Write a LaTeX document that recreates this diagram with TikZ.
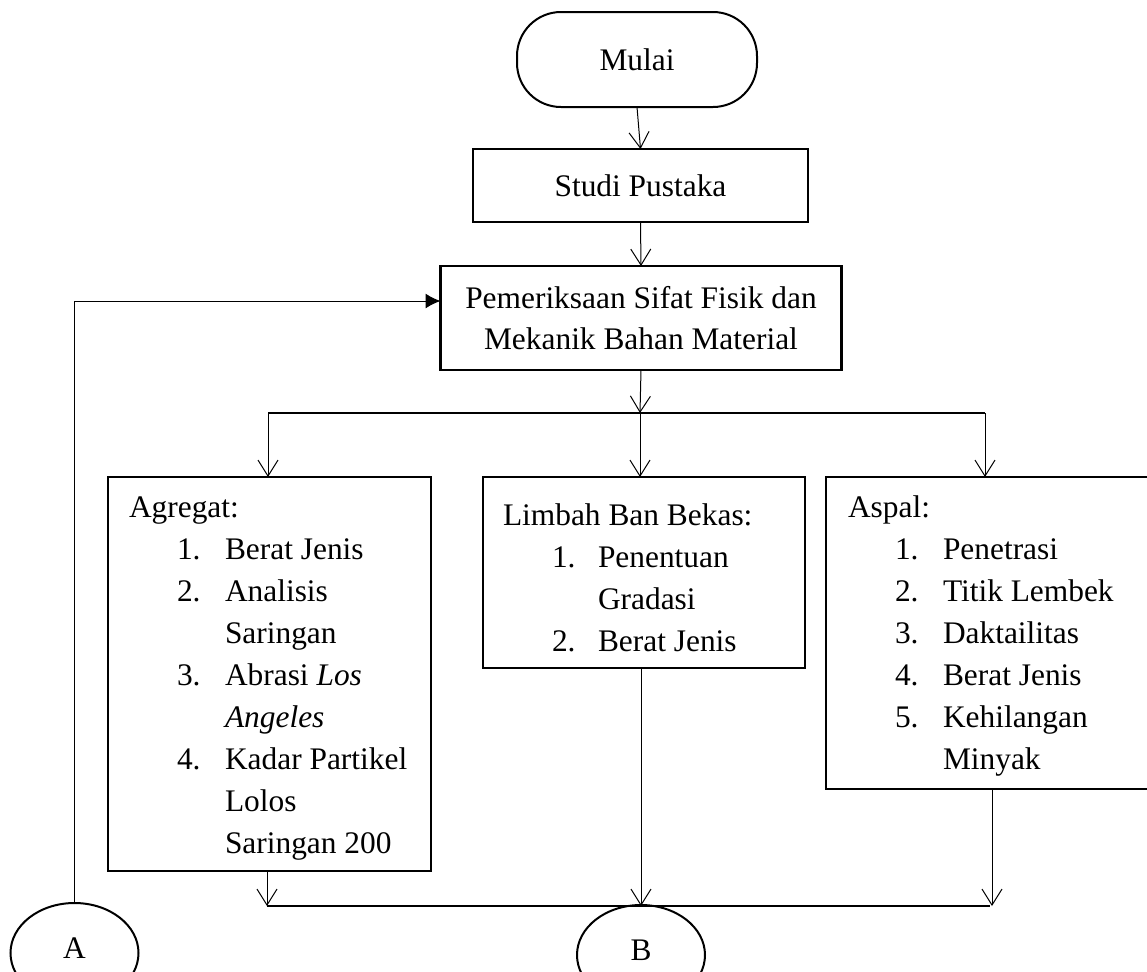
\documentclass[tikz,border=0pt]{standalone}
\usepackage{fontspec}
\setmainfont{Liberation Serif}
\usetikzlibrary{arrows.meta,shapes.geometric,calc}
\begin{document}
\begin{tikzpicture}[x=0.5pt,y=-0.5pt,
  every node/.style={font=\fontsize{15.7}{20.85}\selectfont, inner sep=0pt, outer sep=0pt},
  box/.style={draw, line width=1.2pt, rectangle},
  term/.style={draw, line width=1pt, rectangle, rounded corners=22pt},
  conn/.style={line width=0.5pt, -{Straight Barb[length=8pt,width=10pt]}},
  oval/.style={draw, line width=1pt, ellipse, minimum width=64pt, minimum height=50pt},
  txt/.style={anchor=base west}]
\useasboundingbox (0,0) rectangle (1147,971);

% main nodes
\node[term, minimum width=120pt, minimum height=47.5pt] (mulai) at (637,59.5) {Mulai};
\node[box, minimum width=167.5pt, minimum height=36.5pt] (studi) at (640.5,185.5) {Studi Pustaka};
\node[box, minimum width=200.5pt, minimum height=52pt, align=center] (pem) at (641,318)
  {Pemeriksaan Sifat Fisik dan\\Mekanik Bahan Material};
\node[box, minimum width=161.5pt, minimum height=197pt] (agg) at (269.5,674) {};
\node[box, minimum width=161pt, minimum height=95.5pt] (lim) at (644,572.5) {};
\node[box, minimum width=162pt, minimum height=156pt] (asp) at (988,633) {};
\node[oval] (A) at (74.5,953) {\raisebox{5pt}{A}};
\node[oval] (B) at (641,955) {\raisebox{5pt}{B}};

% Agregat texts
\node[txt] (ag0) at (129,517) {Agregat:};
\node[txt] (ag1n) at (177,559) {1.};
\node[txt] (ag1) at (225,559) {Berat Jenis};
\node[txt] (ag2n) at (177,601) {2.};
\node[txt] (ag2) at (225,601) {Analisis};
\node[txt] (ag3) at (225,643) {Saringan};
\node[txt] (ag4n) at (177,685) {3.};
\node[txt] (ag4) at (225,685) {Abrasi \textit{Los}};
\node[txt] (ag5) at (225,727) {\textit{Angeles}};
\node[txt] (ag6n) at (177,769) {4.};
\node[txt] (ag6) at (225,769) {Kadar Partikel};
\node[txt] (ag7) at (225,811) {Lolos};
\node[txt] (ag8) at (225,853) {Saringan 200};

% Limbah texts
\node[txt] (li0) at (503,525) {Limbah Ban Bekas:};
\node[txt] (li1n) at (552,567) {1.};
\node[txt] (li1) at (598,567) {Penentuan};
\node[txt] (li2) at (598,609) {Gradasi};
\node[txt] (li3n) at (552,651) {2.};
\node[txt] (li3) at (598,651) {Berat Jenis};

% Aspal texts
\node[txt] (as0) at (848,517) {Aspal:};
\node[txt] (as1n) at (895,559) {1.};
\node[txt] (as1) at (943,559) {Penetrasi};
\node[txt] (as2n) at (895,601) {2.};
\node[txt] (as2) at (943,601) {Titik Lembek};
\node[txt] (as3n) at (895,643) {3.};
\node[txt] (as3) at (943,643) {Daktailitas};
\node[txt] (as4n) at (895,685) {4.};
\node[txt] (as4) at (943,685) {Berat Jenis};
\node[txt] (as5n) at (895,727) {5.};
\node[txt] (as5) at (943,727) {Kehilangan};
\node[txt] (as6) at (943,769) {Minyak};

% connector points
\coordinate (bl) at (268,413);
\coordinate (bm) at (640,413);
\coordinate (br) at (985,413);
\coordinate (jl) at (267,906);
\coordinate (jm) at (641,906);
\coordinate (jr) at (992,906);
\coordinate (jre) at (990,906);

% connectors
\draw[conn] (mulai.south) -- (studi.north);
\draw[conn] (studi.south) -- (pem.north);
\draw[conn] (pem.south) -- (bm);
\draw[line width=1pt] (bl) -- (br);
\draw[conn] (bl) -- (bl |- agg.north);
\draw[conn] (bm) -- (bm |- lim.north);
\draw[conn] (br) -- (br |- asp.north);

\draw[conn] (jl |- agg.south) -- (jl);
\draw[conn] (jm |- lim.south) -- (jm);
\draw[conn] (jr |- asp.south) -- (jr);
\draw[line width=1.2pt] (jl) -- (jre);

% feedback from A
\coordinate (fb) at ([yshift=8.5pt]pem.west);
\draw[line width=0.9pt] (A.north) -- (A.north |- fb);
\draw[line width=0.5pt, -{Latex[length=7.5pt,width=7.5pt]}] (A.north |- fb) -- (fb);
\end{tikzpicture}
\end{document}
